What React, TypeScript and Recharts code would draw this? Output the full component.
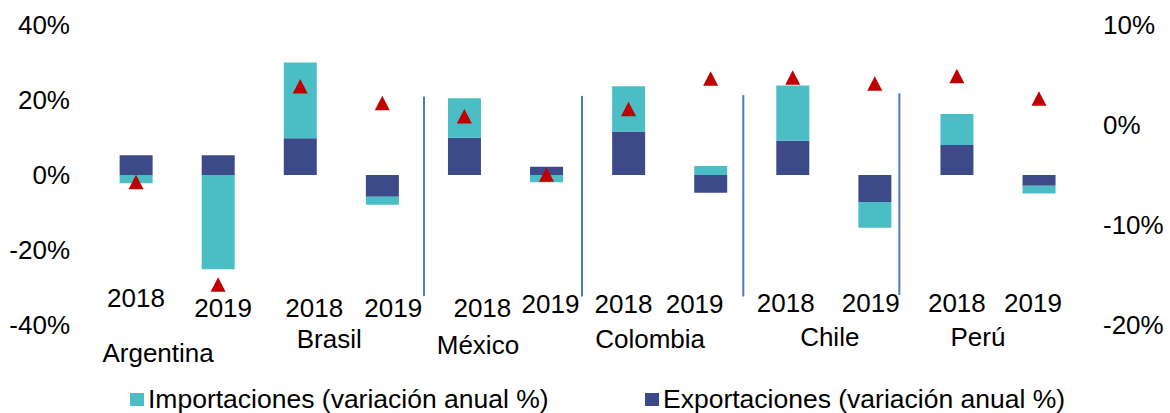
import React from 'react';
import { ComposedChart, Bar, Line, XAxis, YAxis, ReferenceLine, Legend } from 'recharts';

const years = ['2018', '2019', '2018', '2019', '2018', '2019', '2018', '2019', '2018', '2019', '2018', '2019'];
const countries = ['Argentina', 'Brasil', 'México', 'Colombia', 'Chile', 'Perú'];
const exportaciones = [5.25, 5.25, 9.8, -5.8, 9.95, 2.2, 11.6, -4.7, 9.15, -7.2, 8.0, -2.85];
const importaciones = [-2.2, -25.1, 20.2, -2.1, 10.5, -1.95, 12.1, 2.4, 14.75, -6.85, 8.3, -2.05];
const pib = [-5.7, -15.95, 3.87, 2.2, 0.87, -4.95, 1.6, 4.65, 4.75, 4.15, 4.9, 2.65];
const leftTicks = [-40, -20, 0, 20, 40];
const rightTicks = [-20, -10, 0, 10];
const separatorX = [4.008, 5.933, 7.898, 9.799];
const separatorTop = [20.9, 21.1, 21.3, 21.8];
const separatorBottom = [-32.3, -32.4, -32.4, -32.0];

// label placement offsets (style only)
const yearDx = [0, 5, 14, 11, 18, 4, -5, -16, -7, -4, 0, -6];
const yearDy = [-27.5, -17.5, -17.5, -17.5, -17.5, -21, -21, -21, -22.5, -22.5, -22.5, -22.5];
const countryDx = [-19, -12, -27.5, -19.5, -4, -20];
const countryDy = [28, 13.7, 19.3, 14, 12, 11.7];

const data = years.map((y, i) => ({
  key: i,
  year: y,
  exp: exportaciones[i],
  imp: importaciones[i],
  pib: pib[i],
}));

const FONT = '"Liberation Sans", Arial, sans-serif';
const TEAL = '#4BBDC4';
const NAVY = '#3C4A8A';
const RED = '#C00000';
const FS = 26;

const fmt = (v: number) => `${v}%`;

const CategoryTick = (props: any) => {
  const { x, y, payload } = props;
  const i = Number(payload.value);
  const band = 985 / 12;
  return (
    <g>
      <text
        x={x + yearDx[i]}
        y={y + yearDy[i]}
        dy="0.355em"
        textAnchor="middle"
        fontSize={FS}
        fontFamily={FONT}
        fill="#000"
      >
        {years[i]}
      </text>
      {i % 2 === 0 ? (
        <text
          x={x + band / 2 + countryDx[i / 2]}
          y={y + countryDy[i / 2]}
          dy="0.355em"
          textAnchor="middle"
          fontSize={FS}
          fontFamily={FONT}
          fill="#000"
        >
          {countries[i / 2]}
        </text>
      ) : null}
    </g>
  );
};

const Triangle = (props: any) => {
  const { cx, cy, index } = props;
  if (cx == null || cy == null) return <g key={index} />;
  return (
    <polygon
      key={index}
      points={`${cx},${cy - 7.3} ${cx - 7.5},${cy + 7.2} ${cx + 7.5},${cy + 7.2}`}
      fill={RED}
    />
  );
};

const LegendContent = () => (
  <div style={{ position: 'relative', width: 1170, height: 33, fontFamily: FONT, fontSize: 26.5, color: '#000' }}>
    <div style={{ position: 'absolute', left: 130, top: 12.7, width: 14, height: 13.5, background: TEAL }} />
    <div style={{ position: 'absolute', left: 148, top: 3.8, lineHeight: '30px', whiteSpace: 'nowrap' }}>
      Importaciones (variación anual %)
    </div>
    <div style={{ position: 'absolute', left: 645, top: 12.7, width: 14, height: 13.5, background: NAVY }} />
    <div style={{ position: 'absolute', left: 663, top: 3.8, lineHeight: '30px', whiteSpace: 'nowrap' }}>
      Exportaciones (variación anual %)
    </div>
  </div>
);

export default function App() {
  return (
    <div style={{ position: 'absolute', left: 0, top: 0, width: 1170, height: 413, background: '#fff', fontFamily: FONT }}>
      <ComposedChart
        width={1170}
        height={413}
        data={data}
        margin={{ top: 25, right: 0, bottom: 0, left: 0 }}
        stackOffset="sign"
        barCategoryGap="30%"
      >
        <XAxis
          xAxisId="cat"
          dataKey="key"
          type="category"
          interval={0}
          axisLine={false}
          tickLine={false}
          tickSize={0}
          tickMargin={0}
          height={55}
          tick={<CategoryTick />}
        />
        <XAxis xAxisId="sep" dataKey="key" type="number" domain={[0, 12]} allowDataOverflow hide />
        <YAxis
          yAxisId="left"
          orientation="left"
          domain={[-40, 40]}
          ticks={leftTicks}
          tickFormatter={fmt}
          width={95}
          axisLine={false}
          tickLine={false}
          tickSize={0}
          tickMargin={25}
          tick={{ fontSize: FS, fontFamily: FONT, fill: '#000' }}
          allowDataOverflow
        />
        <YAxis
          yAxisId="right"
          orientation="right"
          domain={[-20, 10]}
          ticks={rightTicks}
          tickFormatter={fmt}
          width={90}
          axisLine={false}
          tickLine={false}
          tickSize={0}
          tickMargin={23}
          tick={{ fontSize: FS, fontFamily: FONT, fill: '#000', textAnchor: 'start' }}
          allowDataOverflow
        />
        <Bar xAxisId="cat" yAxisId="left" dataKey="exp" stackId="s" fill={NAVY} isAnimationActive={false} />
        <Bar xAxisId="cat" yAxisId="left" dataKey="imp" stackId="s" fill={TEAL} isAnimationActive={false} />
        <Line
          xAxisId="cat"
          yAxisId="right"
          dataKey="pib"
          stroke="none"
          strokeWidth={0}
          dot={Triangle}
          activeDot={false}
          legendType="none"
          isAnimationActive={false}
        />
        {separatorX.map((sx, i) => (
          <ReferenceLine
            key={i}
            xAxisId="sep"
            yAxisId="left"
            segment={[
              { x: sx, y: separatorTop[i] },
              { x: sx, y: separatorBottom[i] },
            ]}
            stroke="#4A7EBB"
            strokeWidth={2}
            ifOverflow="visible"
          />
        ))}
        <Legend
          verticalAlign="bottom"
          content={() => <LegendContent />}
          wrapperStyle={{ left: 0, bottom: 0, width: 1170, height: 33 }}
        />
      </ComposedChart>
    </div>
  );
}
